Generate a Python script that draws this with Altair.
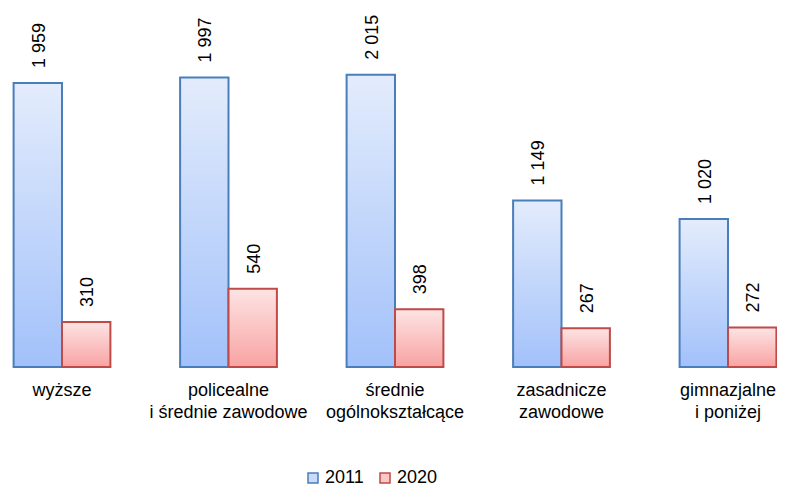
import altair as alt
import pandas as pd

# ---- data ----
categories = [
    "wyższe",
    "policealne\ni średnie zawodowe",
    "średnie\nogólnokształcące",
    "zasadnicze\nzawodowe",
    "gimnazjalne\ni poniżej",
]
years = ["2011", "2020"]
values_2011 = [1959, 1997, 2015, 1149, 1020]
values_2020 = [310, 540, 398, 267, 272]

rows = []
for c, a, b in zip(categories, values_2011, values_2020):
    rows.append({"kategoria": c, "rok": "2011", "wartosc": a})
    rows.append({"kategoria": c, "rok": "2020", "wartosc": b})
df = pd.DataFrame(rows)

# ---- styling / layout ----
FONT = "Liberation Sans"
BLUE_STROKE = "#4a7ebb"
RED_STROKE = "#be4b48"
BLUE_LIGHT = "#c9dbf8"
RED_LIGHT = "#fbc8c7"
W, H = 769, 359
STEP = 166.5
X0 = 54 - STEP / 2

grad_blue = alt.LinearGradient(
    gradient="linear", x1=0, x2=0, y1=0, y2=1,
    stops=[alt.GradientStop(offset=0, color="#e3ecfc"),
           alt.GradientStop(offset=1, color="#a2c1fa")])
grad_red = alt.LinearGradient(
    gradient="linear", x1=0, x2=0, y1=0, y2=1,
    stops=[alt.GradientStop(offset=0, color="#fde4e4"),
           alt.GradientStop(offset=1, color="#f8a3a2")])

legend_spec = alt.Legend(
    title=None, orient="none", direction="horizontal",
    legendX=296, legendY=461, padding=0,
    symbolType="square", symbolSize=100, symbolStrokeWidth=1.5,
    labelFont=FONT, labelFontSize=18, labelColor="black",
    labelOffset=3, columnPadding=12,
)

x_enc = alt.X(
    "kategoria:N",
    sort=categories,
    scale=alt.Scale(domain=categories, range=[X0, X0 + 5 * STEP],
                    paddingInner=0, paddingOuter=0),
    axis=alt.Axis(
        title=None, domain=False, ticks=False, tickSize=0, grid=False,
        labelAngle=0, labelFont=FONT, labelFontSize=18, labelColor="black",
        labelPadding=14, labelLineHeight=22, labelLimit=0,
        labelOverlap=False,
        labelExpr="split(datum.label, '\\n')",
    ),
)
xoff_enc = alt.XOffset(
    "rok:N",
    scale=alt.Scale(domain=years, paddingInner=0, paddingOuter=0.72),
)
y_enc = alt.Y("wartosc:Q", scale=alt.Scale(domain=[0, 2476]), axis=None)
stroke_enc = alt.Stroke(
    "rok:N",
    scale=alt.Scale(domain=years, range=[BLUE_STROKE, RED_STROKE]),
    legend=legend_spec,
)

base = alt.Chart(df).encode(x=x_enc, xOffset=xoff_enc, y=y_enc)

bars_2011 = (
    base.transform_filter("datum.rok == '2011'")
    .mark_bar(fill=grad_blue, strokeWidth=2)
    .encode(stroke=stroke_enc)
)
bars_2020 = (
    base.transform_filter("datum.rok == '2020'")
    .mark_bar(fill=grad_red, strokeWidth=2)
    .encode(stroke=stroke_enc)
)

labels = (
    base.transform_calculate(
        lbl="replace(format(datum.wartosc, ','), ',', ' ')"
    )
    .mark_text(angle=270, align="left", baseline="middle", dx=15, dy=2,
               font=FONT, fontSize=18, color="black")
    .encode(text="lbl:N")
)

legend_layer = (
    alt.Chart(df)
    .transform_filter("false")
    .mark_square()
    .encode(
        fill=alt.Fill("rok:N",
                      scale=alt.Scale(domain=years, range=[BLUE_LIGHT, RED_LIGHT]),
                      legend=legend_spec),
        stroke=stroke_enc,
    )
)

chart = (
    alt.layer(bars_2011, bars_2020, labels, legend_layer)
    .properties(
        width=W, height=H,
        autosize=alt.AutoSizeParams(type="none"),
        padding={"left": 0, "top": 0, "right": 0, "bottom": 123},
        background="white",
    )
    .configure_view(stroke=None)
)

chart.save("out.html", embed_options={"renderer": "svg", "actions": False})
